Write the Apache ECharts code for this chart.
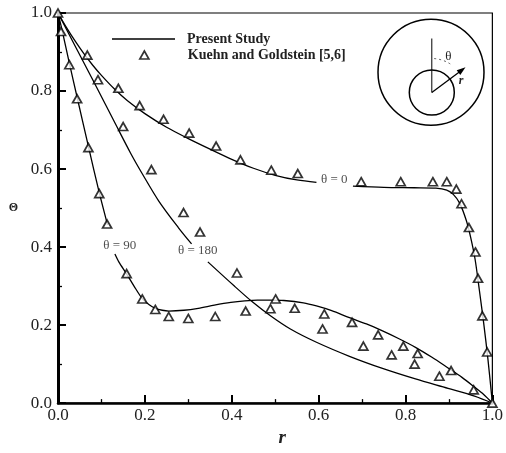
<!DOCTYPE html>
<html>
<head>
<meta charset="utf-8">
<script src="https://cdn.jsdelivr.net/npm/echarts@6/dist/echarts.min.js"></script>
<style>html,body{margin:0;padding:0;background:#fff}#c{width:506px;height:453px}</style>
</head>
<body>
<div id="c"></div>
<script>
// ---- Present Study (solid lines); null = gap left for the curve label ----
const line0R = [0, 0.02, 0.04, 0.06, 0.08, 0.1, 0.13, 0.16, 0.2, 0.25, 0.3, 0.35, 0.4, 0.45, 0.5, 0.55, 0.595, 0.63, 0.679, 0.75, 0.82, 0.87, 0.895, 0.91, 0.925, 0.94, 0.95, 0.96, 0.97, 0.98, 0.99, 1];
const line0T = [1, 0.962, 0.927, 0.895, 0.866, 0.84, 0.805, 0.775, 0.742, 0.707, 0.678, 0.651, 0.625, 0.602, 0.584, 0.572, 0.566, null, 0.556, 0.553, 0.552, 0.551, 0.546, 0.535, 0.512, 0.468, 0.425, 0.37, 0.29, 0.205, 0.11, 0];

const line90R = [0, 0.01, 0.026, 0.044, 0.07, 0.0955, 0.114, 0.12, 0.131, 0.14, 0.158, 0.175, 0.194, 0.21, 0.224, 0.24, 0.255, 0.29, 0.323, 0.36, 0.398, 0.43, 0.459, 0.489, 0.52, 0.565, 0.595, 0.63, 0.671, 0.71, 0.747, 0.785, 0.823, 0.86, 0.898, 0.93, 0.959, 0.98, 1];
const line90T = [1, 0.953, 0.872, 0.784, 0.658, 0.537, 0.457, null, 0.382, 0.362, 0.331, 0.3, 0.268, 0.252, 0.243, 0.238, 0.236, 0.238, 0.243, 0.251, 0.258, 0.262, 0.264, 0.264, 0.263, 0.257, 0.249, 0.237, 0.219, 0.203, 0.185, 0.165, 0.143, 0.118, 0.09, 0.066, 0.041, 0.022, 0];

const line180R = [0, 0.04, 0.085, 0.133, 0.1675, 0.194, 0.232, 0.277, 0.3075, 0.326, 0.345, 0.406, 0.448, 0.489, 0.535, 0.595, 0.671, 0.747, 0.823, 0.898, 0.959, 1];
const line180T = [1, 0.914, 0.818, 0.714, 0.64, 0.588, 0.518, 0.45, 0.408, null, 0.362, 0.3, 0.259, 0.224, 0.19, 0.156, 0.12, 0.089, 0.062, 0.038, 0.018, 0];

// ---- Kuehn and Goldstein [5,6] (triangles) ----
const exp0R = [0, 0.0675, 0.139, 0.188, 0.243, 0.302, 0.364, 0.42, 0.491, 0.552, 0.698, 0.789, 0.863, 0.895, 0.917, 0.929, 0.946, 0.961, 0.967, 0.977, 0.988, 1];
const exp0T = [1, 0.892, 0.807, 0.7625, 0.7275, 0.692, 0.659, 0.6235, 0.597, 0.5885, 0.5675, 0.5675, 0.5675, 0.5675, 0.5485, 0.511, 0.45, 0.3875, 0.32, 0.2235, 0.131, 0];

const exp90R = [0.007, 0.026, 0.044, 0.070, 0.095, 0.113, 0.158, 0.194, 0.224, 0.255, 0.3, 0.362, 0.432, 0.501, 0.545, 0.613, 0.677, 0.737, 0.795, 0.828, 0.905, 0.957];
const exp90T = [0.9525, 0.8675, 0.78, 0.655, 0.537, 0.459, 0.332, 0.267, 0.240, 0.222, 0.217, 0.222, 0.236, 0.267, 0.243, 0.2285, 0.207, 0.175, 0.146, 0.127, 0.0835, 0.034];

const exp180R = [0.092, 0.15, 0.215, 0.289, 0.327, 0.412, 0.489, 0.609, 0.703, 0.768, 0.821, 0.878];
const exp180T = [0.829, 0.709, 0.5985, 0.4885, 0.4385, 0.3335, 0.242, 0.19, 0.146, 0.1235, 0.1, 0.069];

// ---- texts ----
const xTickLabels = ['0.0', '0.2', '0.4', '0.6', '0.8', '1.0'];
const yTickLabels = ['0.0', '0.2', '0.4', '0.6', '0.8', '1.0'];
const legendNames = ['Present Study', 'Kuehn and Goldstein [5,6]'];
const curveNames = ['θ = 0', 'θ = 90', 'θ = 180'];

const zip = (a, b) => a.map((v, i) => [v, b[i]]);
const serif = 'Liberation Serif, Times New Roman, serif';

const lineStyleCommon = {
  type: 'line', name: legendNames[0], symbol: 'none', showSymbol: false,
  smooth: 0.3, connectNulls: false, silent: true,
  lineStyle: { color: '#000', width: 1.3 }, itemStyle: { color: '#000' }, z: 3
};
const scatterCommon = {
  type: 'scatter', name: legendNames[1], symbol: 'triangle', symbolSize: [9, 8],
  itemStyle: { color: '#fff', borderColor: '#000', borderWidth: 1.7 }, silent: true, z: 4
};
const legendText = { fontFamily: serif, fontWeight: 'bold', fontSize: 14, color: '#222' };

const chart = echarts.init(document.getElementById('c'), null, { renderer: 'canvas' });
chart.setOption({
  animation: false,
  backgroundColor: '#fff',
  grid: { left: 58, right: 8, top: 13, bottom: 40, show: true, borderColor: '#000', borderWidth: 1.2 },
  legend: [
    {
      data: [{ name: legendNames[0], icon: 'rect' }], left: 112, top: 32, padding: 0,
      itemWidth: 63, itemHeight: 1.4, selectedMode: false,
      itemStyle: { color: '#000', borderWidth: 0 },
      textStyle: Object.assign({ padding: [0, 0, 0, 7] }, legendText)
    },
    {
      data: [{ name: legendNames[1], icon: 'triangle' }], left: 139, top: 48, padding: 0,
      itemWidth: 9, itemHeight: 8, selectedMode: false,
      itemStyle: { color: '#fff', borderColor: '#000', borderWidth: 1.7 },
      textStyle: Object.assign({ padding: [0, 0, 0, 34] }, legendText)
    }
  ],
  xAxis: {
    type: 'value', min: 0, max: 1, interval: 0.2,
    name: 'r', nameLocation: 'middle', nameGap: 25,
    nameTextStyle: { fontFamily: serif, fontStyle: 'italic', fontWeight: 'bold', fontSize: 19, color: '#222', padding: [0, 0, 0, 14] },
    axisLine: { onZero: false, lineStyle: { color: '#000', width: 2.5 } },
    axisTick: { inside: true, length: 8, lineStyle: { color: '#000', width: 2 } },
    minorTick: { show: true, splitNumber: 2, length: 4, lineStyle: { color: '#000', width: 1.3 } },
    splitLine: { show: false },
    axisLabel: { margin: 4, fontFamily: serif, fontSize: 17, color: '#222',
      formatter: (v) => xTickLabels[Math.round(v / 0.2)] }
  },
  yAxis: {
    type: 'value', min: 0, max: 1, interval: 0.2,
    name: 'Θ', nameLocation: 'middle', nameGap: 40, nameRotate: 0,
    nameTextStyle: { fontFamily: serif, fontSize: 12, fontWeight: 'bold', color: '#222' },
    axisLine: { onZero: false, lineStyle: { color: '#000', width: 3 } },
    axisTick: { inside: true, length: 8, lineStyle: { color: '#000', width: 2 } },
    minorTick: { show: true, splitNumber: 2, length: 4, lineStyle: { color: '#000', width: 1.3 } },
    splitLine: { show: false },
    axisLabel: { margin: 6, fontFamily: serif, fontSize: 17, color: '#222',
      formatter: (v) => yTickLabels[Math.round(v / 0.2)] }
  },
  series: [
    Object.assign({}, lineStyleCommon, { data: zip(line0R, line0T) }),
    Object.assign({}, lineStyleCommon, { data: zip(line90R, line90T) }),
    Object.assign({}, lineStyleCommon, { data: zip(line180R, line180T) }),
    Object.assign({}, scatterCommon, { data: zip(exp0R, exp0T) }),
    Object.assign({}, scatterCommon, { data: zip(exp90R, exp90T) }),
    Object.assign({}, scatterCommon, { data: zip(exp180R, exp180T) }),
    {
      type: 'scatter', name: 'curve labels', symbolSize: 0, silent: true, z: 5,
      label: { show: true, position: 'inside', formatter: '{b}', fontFamily: serif, fontSize: 13, color: '#222' },
      data: [
        { name: curveNames[0], value: [0.636, 0.572] },
        { name: curveNames[1], value: [0.142, 0.404] },
        { name: curveNames[2], value: [0.3216, 0.392] }
      ]
    }
  ],
  graphic: [
    { type: 'circle', shape: { cx: 431, cy: 72.3, r: 53 }, style: { fill: 'none', stroke: '#000', lineWidth: 1.5 }, silent: true },
    { type: 'circle', shape: { cx: 431.8, cy: 92.5, r: 22.5 }, style: { fill: 'none', stroke: '#000', lineWidth: 1.5 }, silent: true },
    { type: 'line', shape: { x1: 431.8, y1: 92.5, x2: 431.8, y2: 38.5 }, style: { stroke: '#000', lineWidth: 1 }, silent: true },
    { type: 'line', shape: { x1: 431.8, y1: 92.5, x2: 459, y2: 72.2 }, style: { stroke: '#000', lineWidth: 1.3 }, silent: true },
    { type: 'polygon', shape: { points: [[465.5, 67.3], [460.3, 75], [456.7, 70.2]] }, style: { fill: '#000' }, silent: true },
    { type: 'arc', shape: { cx: 431.8, cy: 92.5, r: 34, startAngle: -1.5, endAngle: -0.95, clockwise: true }, style: { fill: 'none', stroke: '#555', lineWidth: 1, lineDash: [2, 3] }, silent: true },
    { type: 'text', x: 448.3, y: 56.7, style: { text: 'θ', font: '13px ' + serif, fill: '#222', align: 'center', verticalAlign: 'middle' }, silent: true },
    { type: 'text', x: 461, y: 81, style: { text: 'r', font: 'italic bold 12px ' + serif, fill: '#222', align: 'center', verticalAlign: 'middle' }, silent: true }
  ]
});
</script>
</body>
</html>
